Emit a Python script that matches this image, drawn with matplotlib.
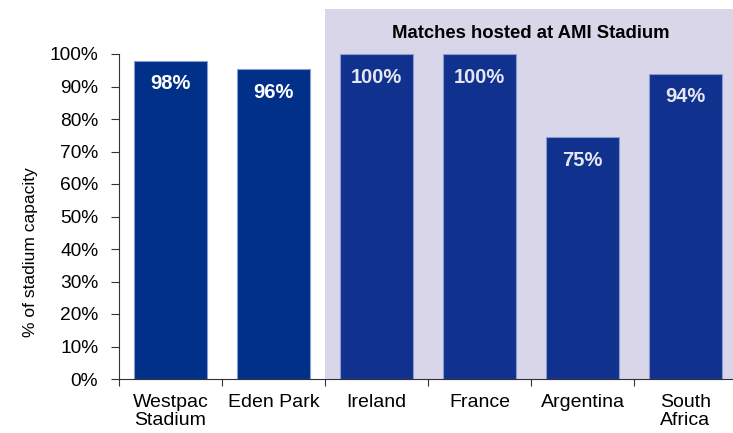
import matplotlib.pyplot as plt
from matplotlib.patches import Rectangle

categories = ['Westpac\nStadium', 'Eden Park', 'Ireland', 'France', 'Argentina', 'South\nAfrica']
capacity = [98, 95.5, 100, 100, 74.5, 94]
bar_labels = ['98%', '96%', '100%', '100%', '75%', '94%']
ami_start = 2  # first match hosted at AMI Stadium

plt.rcParams['font.family'] = ['Liberation Sans', 'DejaVu Sans']

fig = plt.figure(figsize=(7.33, 4.33), dpi=100)
# axes runs a little past the right edge of the figure, as in the original
ax = fig.add_axes([119 / 733, (433 - 379) / 433, 618 / 733, 325 / 433])

x = range(len(categories))

# shaded panel behind the AMI Stadium matches
ax.add_patch(Rectangle((ami_start - 0.5, 0), 4.5, 113.8, facecolor='#d9d6e9',
                       edgecolor='none', clip_on=False, zorder=0))
ax.text(3.5, 106.4, 'Matches hosted at AMI Stadium', ha='center', va='center',
        fontsize=13.3, fontweight='bold', color='black')

colors = ['#003087' if i < ami_start else '#10318e' for i in x]
bars = ax.bar(x, capacity, width=0.7, color=colors, edgecolor='#8a9bd0',
              linewidth=0.8, zorder=2, clip_on=False)

for i, (v, lab) in enumerate(zip(capacity, bar_labels)):
    ax.text(i, v - 7.2, lab, ha='center', va='center', fontsize=14.5,
            fontweight='bold', color='white' if i < ami_start else '#e6e6f2', zorder=3)

ax.set_xlim(-0.5, len(categories) - 0.5)
ax.set_ylim(0, 100)
ax.set_yticks(range(0, 101, 10))
ax.set_yticklabels([f'{t}%' for t in range(0, 101, 10)], fontsize=13.8)
ax.set_xticks(x)
ax.set_xticklabels(categories, fontsize=14, linespacing=1.05)
ax.tick_params(axis='x', length=0, pad=11)
ax.set_xticks([i - 0.5 for i in x] + [len(categories) - 0.5], minor=True)
ax.tick_params(axis='x', which='minor', length=5, width=0.8, color='#333333')
ax.tick_params(axis='y', length=6, width=0.8, color='#333333', pad=9)

ax.set_ylabel('% of stadium capacity', fontsize=12.5)
ax.yaxis.set_label_coords(-81 / 618, (379 - 252) / 325)

ax.spines['top'].set_visible(False)
ax.spines['right'].set_visible(False)
ax.spines['left'].set_color('#333333')
ax.spines['bottom'].set_color('#333333')
ax.patch.set_alpha(0)

fig.savefig('out.png', dpi=100)
